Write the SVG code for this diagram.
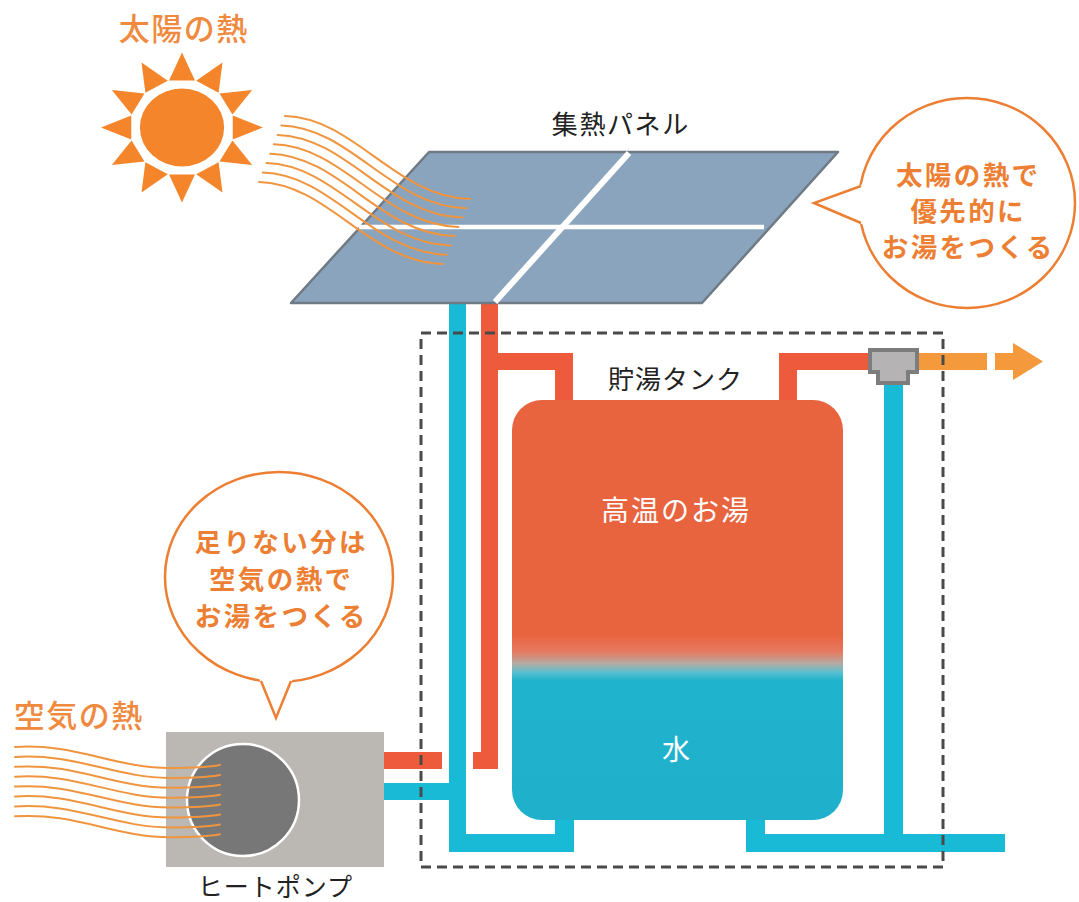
<svg xmlns="http://www.w3.org/2000/svg" width="1079" height="902" viewBox="0 0 1079 902">
  <defs>
    <style>
      .jp { font-family: "Noto Sans CJK JP", "Noto Sans", sans-serif; }
      .lbl { font-size: 26px; fill: #222222; text-anchor: middle; }
      .heat { font-size: 31px; fill: #ef8a3f; font-weight: 500; text-anchor: middle; letter-spacing: 1.5px; }
      .bubble-txt { font-size: 26.5px; fill: #ec7f33; font-weight: 700; text-anchor: middle; letter-spacing: 2.4px; }
      .tank-txt { font-size: 28px; fill: #ffffff; text-anchor: middle; }
      .wave { fill: none; stroke: #f0953f; stroke-width: 2; stroke-linecap: round; }
      .bubble { fill: #ffffff; stroke: #ec7f33; stroke-width: 2.5; }
      .tail { fill: none; stroke: #ec7f33; stroke-width: 2.5; stroke-linejoin: miter; }
      .hot { fill: #ee5b3c; }
      .cold { fill: #19bad5; }
      .ray { fill: #f5852b; }
    </style>
    <linearGradient id="tankFill" x1="0" y1="0" x2="0" y2="1">
      <stop offset="0" stop-color="#e8643f"/>
      <stop offset="0.56" stop-color="#e8643f"/>
      <stop offset="0.6" stop-color="#e67a62"/>
      <stop offset="0.627" stop-color="#b7aaa3"/>
      <stop offset="0.648" stop-color="#5ac0cf"/>
      <stop offset="0.668" stop-color="#20b3cd"/>
      <stop offset="1" stop-color="#1fb0cb"/>
    </linearGradient>
    <polygon id="ray" points="0,-75 12,-47 -12,-47"/>
  </defs>

  <rect width="1079" height="902" fill="#ffffff"/>

  <!-- sun -->
  <g id="sun" transform="translate(182,127.5) scale(1.08,1)">
    <g class="ray">
      <use href="#ray"/>
      <use href="#ray" transform="rotate(30)"/>
      <use href="#ray" transform="rotate(60)"/>
      <use href="#ray" transform="rotate(90)"/>
      <use href="#ray" transform="rotate(120)"/>
      <use href="#ray" transform="rotate(150)"/>
      <use href="#ray" transform="rotate(180)"/>
      <use href="#ray" transform="rotate(210)"/>
      <use href="#ray" transform="rotate(240)"/>
      <use href="#ray" transform="rotate(270)"/>
      <use href="#ray" transform="rotate(300)"/>
      <use href="#ray" transform="rotate(330)"/>
    </g>
    <circle r="39" fill="#f5852b"/>
  </g>
  <text id="label-sun-heat" class="jp heat" x="183.8" y="40">太陽の熱</text>

  <!-- connectors: pipes -->
  <g id="connectors">
    <!-- return line from collector / heat pump -->
    <rect class="cold" x="449" y="303" width="17" height="549"/>
    <!-- supply line from collector -->
    <rect class="hot" x="481" y="303" width="17" height="466"/>
    <rect class="hot" x="473" y="752" width="25" height="17"/>
    <!-- hot inlet at tank top -->
    <rect class="hot" x="481" y="353" width="92" height="17"/>
    <rect class="hot" x="555" y="353" width="18" height="52"/>
    <!-- hot outlet at tank top -->
    <rect class="hot" x="779" y="353" width="18" height="52"/>
    <rect class="hot" x="779" y="353" width="92" height="17"/>
    <!-- cold water into mixing valve -->
    <rect class="cold" x="884" y="380" width="19" height="472"/>
    <!-- bottom connections -->
    <rect class="cold" x="449" y="834" width="125" height="18"/>
    <rect class="cold" x="555" y="812" width="19" height="40"/>
    <rect class="cold" x="746" y="812" width="19" height="40"/>
    <rect class="cold" x="746" y="834" width="259" height="18"/>
    <!-- heat pump connections -->
    <rect class="hot" x="383" y="752" width="59" height="17"/>
    <rect class="cold" x="383" y="783" width="74" height="17"/>
    <!-- hot water delivery -->
    <rect x="917" y="353" width="70" height="17" fill="#f59a3c"/>
    <path d="M995,353 H1013 V343 L1043,361.5 L1013,380 V370 H995 Z" fill="#f59a3c"/>
  </g>

  <!-- mixing valve -->
  <g id="valve">
    <path d="M870,350 H917 V372 H908 V383 H878 V372 H870 Z" fill="#b5b3b3" stroke="#7d7d7d" stroke-width="4"/>
  </g>

  <!-- storage tank -->
  <g id="tank">
    <rect x="512" y="400" width="331" height="420" rx="30" ry="30" fill="url(#tankFill)"/>
    <text class="jp tank-txt" x="676" y="521" style="letter-spacing:2px">高温のお湯</text>
    <text class="jp tank-txt" x="676" y="760">水</text>
  </g>

  <!-- tank unit boundary -->
  <g id="tank-unit">
    <rect x="421" y="333" width="522" height="534" fill="none" stroke="#4a4a4a" stroke-width="3" stroke-dasharray="10 6"/>
    <text class="jp lbl" x="675.5" y="389" style="letter-spacing:1px">貯湯タンク</text>
  </g>

  <!-- solar collector -->
  <g id="panel">
    <polygon points="429,152 838,152 702,303 291,303" fill="#8ba4be" stroke="#6f7a84" stroke-width="2.5" stroke-linejoin="round"/>
    <line x1="359" y1="227" x2="764" y2="227" stroke="#ffffff" stroke-width="4.5"/>
    <line x1="629" y1="153" x2="495" y2="302" stroke="#ffffff" stroke-width="6"/>
    <text class="jp lbl" x="620.8" y="134" style="letter-spacing:1.6px">集熱パネル</text>
  </g>

  <!-- solar heat rays -->
  <g id="sun-waves" class="wave">
    <path d="M285,116 C355,118 395,197 470,199"/>
    <path d="M281.3,125.4 C351.3,127.4 391.1,206.3 466.1,208.3"/>
    <path d="M277.6,134.9 C347.6,136.9 387.3,215.6 462.3,217.6"/>
    <path d="M273.9,144.3 C343.9,146.3 383.4,224.9 458.4,226.9"/>
    <path d="M270.2,153.7 C340.2,155.7 379.6,234.1 454.6,236.1"/>
    <path d="M266.4,163.1 C336.4,165.1 375.7,243.4 450.7,245.4"/>
    <path d="M262.7,172.6 C332.7,174.6 371.8,252.7 446.8,254.7"/>
    <path d="M259,182 C329,184 368,262 443,264"/>
  </g>

  <!-- right speech bubble -->
  <g id="bubble-solar">
    <ellipse class="bubble" cx="967" cy="203" rx="108" ry="105"/>
    <polygon points="866,183 814,203 866,226" fill="#ffffff"/>
    <polyline class="tail" points="861,186 814,203 861,223"/>
    <text class="jp bubble-txt" x="968.2" y="185">太陽の熱で</text>
    <text class="jp bubble-txt" x="968.2" y="221">優先的に</text>
    <text class="jp bubble-txt" x="968.2" y="257">お湯をつくる</text>
  </g>

  <!-- left speech bubble -->
  <g id="bubble-air">
    <ellipse class="bubble" cx="279" cy="577" rx="114" ry="105"/>
    <polygon points="258,676 276,718 294,676" fill="#ffffff"/>
    <polyline class="tail" points="261,681 276,718 291,681"/>
    <text class="jp bubble-txt" x="281.2" y="552">足りない分は</text>
    <text class="jp bubble-txt" x="281.2" y="589">空気の熱で</text>
    <text class="jp bubble-txt" x="281.2" y="626">お湯をつくる</text>
  </g>

  <!-- heat pump -->
  <g id="heat-pump">
    <rect x="166" y="732" width="218" height="135" fill="#bbb7b3"/>
    <circle cx="243" cy="800" r="56" fill="#777777" stroke="#ffffff" stroke-width="2.5"/>
    <text class="jp lbl" x="275.5" y="896" style="font-size:25px;letter-spacing:1px">ヒートポンプ</text>
  </g>

  <text id="label-air-heat" class="jp heat" x="78.8" y="727">空気の熱</text>

  <!-- ambient air heat -->
  <g id="air-waves" class="wave">
    <path d="M15,747 C75,743 115,768 170,768 C195,768 210,767 220,765"/>
    <path d="M15,756.9 C75,752.9 115,777.9 170,777.9 C195,777.9 210,776.9 220,774.9"/>
    <path d="M15,766.8 C75,762.8 115,787.8 170,787.8 C195,787.8 210,786.8 220,784.8"/>
    <path d="M15,776.7 C75,772.7 115,797.7 170,797.7 C195,797.7 210,796.7 220,794.7"/>
    <path d="M15,786.6 C75,782.6 115,807.6 170,807.6 C195,807.6 210,806.6 220,804.6"/>
    <path d="M15,796.5 C75,792.5 115,817.5 170,817.5 C195,817.5 210,816.5 220,814.5"/>
    <path d="M15,806.4 C75,802.4 115,827.4 170,827.4 C195,827.4 210,826.4 220,824.4"/>
    <path d="M15,816.3 C75,812.3 115,837.3 170,837.3 C195,837.3 210,836.3 220,834.3"/>
  </g>
</svg>
